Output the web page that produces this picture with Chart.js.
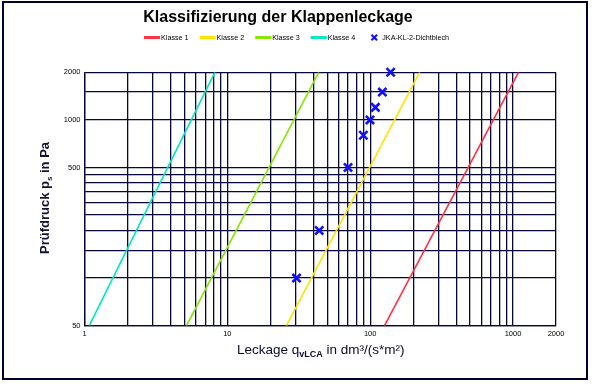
<!DOCTYPE html>
<html><head><meta charset="utf-8">
<script src="https://cdn.jsdelivr.net/npm/chart.js@4"></script>
<style>html,body{margin:0;padding:0;background:#fff}</style>
</head><body>
<canvas id="c" width="593" height="385"></canvas>
<script>
// ---- data ----
const chartTitle = 'Klassifizierung der Klappenleckage';
const classLabels = ['Klasse 1', 'Klasse 2', 'Klasse 3', 'Klasse 4'];
const classColors = ['#ff3346', '#ffe400', '#88e600', '#00e6c6'];
const classPressure = [50, 2000];
const klasse1Leak = [126, 1092];
const klasse2Leak = [25.9, 222];
const klasse3Leak = [5.18, 43.6];
const klasse4Leak = [1.08, 8.18];
const measLabel = 'JKA-KL-2-Dichtblech';
const measColor = '#1010ff';
const measLeak = [30.5, 44, 70, 89.6, 99.7, 108.8, 121.7, 139];
const measPressure = [100, 200, 500, 800, 1000, 1200, 1500, 2000];
const xGrid = [1,2,3,4,5,6,7,8,9,10,20,30,40,50,60,70,80,90,100,200,300,400,500,600,700,800,900,1000,2000];
const xTickLabels = [1, 10, 100, 1000, 2000];
const yGrid = [50,100,150,200,250,300,350,400,450,500,1000,1500,2000];
const yTickLabels = [50, 500, 1000, 2000];

const FONT = "'Liberation Sans', Arial, sans-serif";
const GRID = '#06063a';

const classLeaks = [klasse1Leak, klasse2Leak, klasse3Leak, klasse4Leak];
const datasets = classLabels.map((lab, i) => ({
  type: 'line',
  label: lab,
  data: classPressure.map((p, j) => ({x: classLeaks[i][j], y: p})),
  borderColor: classColors[i],
  backgroundColor: classColors[i],
  borderWidth: 1.6,
  pointRadius: 0,
  fill: false
}));
datasets.push({
  type: 'scatter',
  label: measLabel,
  data: measPressure.map((p, j) => ({x: measLeak[j], y: p})),
  borderColor: measColor,
  backgroundColor: measColor,
  pointStyle: 'crossRot',
  pointRadius: 5.8,
  pointBorderWidth: 2.6,
  clip: false
});

function drawRich(ctx, parts, cx, baseline) {
  let w = 0;
  parts.forEach(p => { ctx.font = p.font; p.w = ctx.measureText(p.t).width; w += p.w; });
  let x = cx - w / 2;
  ctx.textAlign = 'left';
  ctx.textBaseline = 'alphabetic';
  parts.forEach(p => { ctx.font = p.font; ctx.fillText(p.t, x, baseline + (p.dy || 0)); x += p.w; });
}

const decorPlugin = {
  id: 'decor',
  afterDraw(chart) {
    const ctx = chart.ctx;
    ctx.save();
    // outer frame
    ctx.strokeStyle = '#00002e';
    ctx.lineWidth = 2;
    ctx.strokeRect(3, 2, 584, 377);
    // legend
    ctx.font = '7.2px ' + FONT;
    ctx.textBaseline = 'middle';
    ctx.textAlign = 'left';
    let x = 144;
    const ly = 37.5;
    chart.data.datasets.forEach((ds) => {
      if (ds.type === 'line') {
        ctx.strokeStyle = ds.borderColor;
        ctx.lineWidth = 3;
        ctx.beginPath(); ctx.moveTo(x, ly); ctx.lineTo(x + 16, ly); ctx.stroke();
        x += 17;
      } else {
        x += 5;
        ctx.strokeStyle = ds.borderColor;
        ctx.lineWidth = 2;
        const r = 2.8, cx = x + 3;
        ctx.beginPath();
        ctx.moveTo(cx - r, ly - r); ctx.lineTo(cx + r, ly + r);
        ctx.moveTo(cx + r, ly - r); ctx.lineTo(cx - r, ly + r);
        ctx.stroke();
        x += 11;
      }
      ctx.fillStyle = '#000';
      ctx.fillText(ds.label, x, ly + 0.5);
      x += ctx.measureText(ds.label).width + 11;
    });
    // x axis title
    ctx.fillStyle = '#0a0a30';
    drawRich(ctx, [
      {t: 'Leckage q', font: '13.5px ' + FONT},
      {t: 'vLCA', font: 'bold 9px ' + FONT, dy: 3},
      {t: ' in dm³/(s*m²)', font: '13.5px ' + FONT}
    ], 320.7, 354);
    // y axis title
    ctx.translate(48.5, 198);
    ctx.rotate(-Math.PI / 2);
    ctx.fillStyle = '#111133';
    drawRich(ctx, [
      {t: 'Prüfdruck p', font: 'bold 13px ' + FONT},
      {t: 's', font: 'bold 8px ' + FONT, dy: 3},
      {t: ' in Pa', font: 'bold 13px ' + FONT}
    ], 0, 0);
    ctx.restore();
  }
};

new Chart(document.getElementById('c'), {
  data: {datasets},
  options: {
    responsive: false,
    animation: false,
    layout: {padding: {left: 0, right: 37, top: 0, bottom: 0}},
    plugins: {
      legend: {display: false},
      tooltip: {enabled: false},
      title: {
        display: true,
        text: chartTitle,
        color: '#000',
        font: {family: FONT, size: 16, weight: 'bold'},
        padding: {top: 8, bottom: 45.1}
      }
    },
    scales: {
      x: {
        type: 'logarithmic',
        min: 1, max: 2000,
        afterBuildTicks: s => { s.ticks = xGrid.map(v => ({value: v})); },
        afterFit: s => { s.height = 59.3; },
        ticks: {
          autoSkip: false, maxRotation: 0, minRotation: 0, padding: 4,
          color: '#000', font: {family: FONT, size: 7.5},
          callback: v => xTickLabels.includes(v) ? String(v) : ''
        },
        grid: {color: GRID, lineWidth: 1.3, drawTicks: false},
        border: {color: GRID, width: 1.3}
      },
      y: {
        type: 'logarithmic',
        min: 50, max: 2000,
        afterBuildTicks: s => { s.ticks = yGrid.map(v => ({value: v})); },
        afterFit: s => { s.width = 84.5; },
        ticks: {
          autoSkip: false, padding: 4,
          color: '#000', font: {family: FONT, size: 7.5},
          callback: v => yTickLabels.includes(v) ? String(v) : ''
        },
        grid: {color: GRID, lineWidth: 1.3, drawTicks: false},
        border: {color: GRID, width: 1.3}
      }
    }
  },
  plugins: [decorPlugin]
});
</script>
</body></html>
